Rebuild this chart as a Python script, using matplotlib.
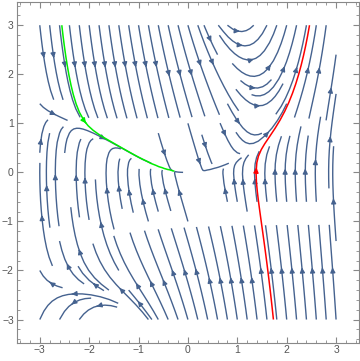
import numpy as np
import matplotlib
matplotlib.use("Agg")
import matplotlib.pyplot as plt
from matplotlib.ticker import MultipleLocator

plt.rcParams["font.family"] = ["Liberation Sans", "DejaVu Sans"]

# vector field: x' = y, y' = x*y^2 - damp*y + x^2
damp = 3.5
x_range = (-3.0, 3.0)
y_range = (-3.0, 3.0)
ticks = [-3, -2, -1, 0, 1, 2, 3]

# highlighted trajectories (a point on each, traced both ways)
green_seed = [[-2.1, 1.05]]
red_seed = [[1.38, 0.0]]

stream_color = "#45628f"

xs = np.linspace(x_range[0], x_range[1], 161)
ys = np.linspace(y_range[0], y_range[1], 161)
X, Y = np.meshgrid(xs, ys)
U = Y
V = X * Y**2 - damp * Y + X**2

fig = plt.figure(figsize=(3.6, 3.61), dpi=100)
ax = fig.add_axes([0.046, 0.051, 0.952, 0.943])

def stream(**kw):
    try:
        return ax.streamplot(X, Y, U, V, **kw)
    except TypeError:
        kw.pop("num_arrows", None)
        return ax.streamplot(X, Y, U, V, **kw)

stream(density=1.05, color=stream_color, linewidth=1.0, arrowsize=0.7,
       num_arrows=4, maxlength=0.65)
stream(start_points=green_seed, integration_direction="both",
       color="#00ee00", linewidth=1.1, arrowsize=0.7, num_arrows=7,
       broken_streamlines=False, maxlength=0.78)
stream(start_points=red_seed, integration_direction="both",
       color="#ff0000", linewidth=1.1, arrowsize=0.7, num_arrows=9,
       broken_streamlines=False)

ax.set_xlim(-3.47, 3.47)
ax.set_ylim(-3.47, 3.47)
ax.set_xticks(ticks)
ax.set_yticks(ticks)
ax.xaxis.set_minor_locator(MultipleLocator(0.2))
ax.yaxis.set_minor_locator(MultipleLocator(0.2))
ax.tick_params(which="both", direction="in", top=True, right=True,
               color="#888888", labelcolor="#555555", labelsize=7.5, pad=2)
ax.tick_params(which="major", length=4, width=0.8)
ax.tick_params(which="minor", length=2, width=0.6)
for s in ax.spines.values():
    s.set_color("#888888")
    s.set_linewidth(0.8)

fig.savefig("out.png", dpi=100)
